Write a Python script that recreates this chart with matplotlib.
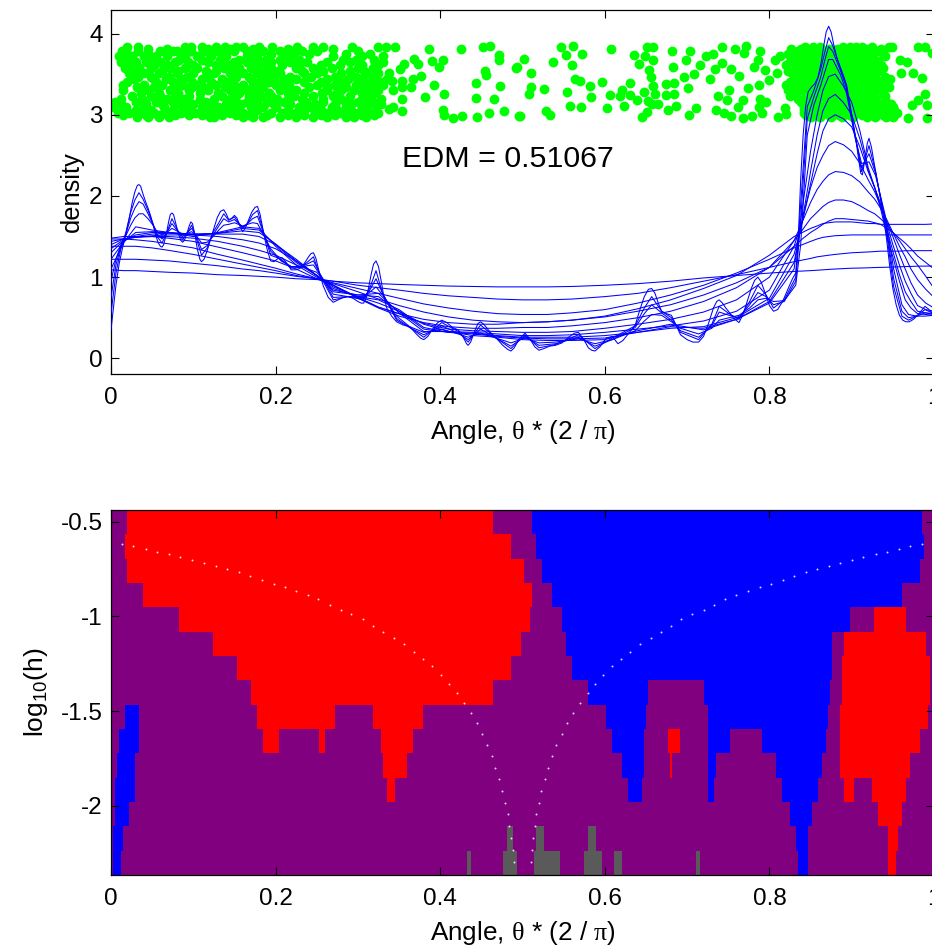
import numpy as np
import matplotlib
matplotlib.use("Agg")
import matplotlib.pyplot as plt
from matplotlib.colors import ListedColormap

plt.rcParams["font.family"] = ["Liberation Sans", "DejaVu Sans"]
plt.rcParams["mathtext.fontset"] = "custom"
plt.rcParams["mathtext.rm"] = "Liberation Serif"
plt.rcParams["mathtext.default"] = "regular"
plt.rcParams["axes.unicode_minus"] = False

# sharpest density curve (angle, density)
w1_points = [
    (0, .35), (.003, .62), (.006, .90), (.010, 1.17), (.014, 1.36), (.018, 1.52), (.022, 1.72), (.026, 1.93),
    (.029, 2.05), (.032, 2.13), (.034, 2.14), (.036, 2.12), (.039, 2.02), (.042, 1.93), (.045, 1.85), (.048, 1.76),
    (.051, 1.65), (.054, 1.53), (.057, 1.43), (.060, 1.38), (.062, 1.37), (.064, 1.40), (.067, 1.52), (.070, 1.68),
    (.072, 1.77), (.074, 1.79), (.076, 1.77), (.079, 1.65), (.082, 1.53), (.085, 1.45), (.087, 1.43), (.089, 1.45),
    (.092, 1.53), (.095, 1.63), (.097, 1.68), (.099, 1.66), (.102, 1.52), (.105, 1.34), (.108, 1.22), (.110, 1.19),
    (.113, 1.22), (.117, 1.33), (.121, 1.47), (.125, 1.60), (.129, 1.73), (.133, 1.81), (.137, 1.83), (.140, 1.78),
    (.143, 1.71), (.146, 1.72), (.150, 1.76), (.153, 1.73), (.157, 1.62), (.160, 1.56), (.163, 1.60), (.167, 1.70),
    (.171, 1.80), (.175, 1.86), (.178, 1.87), (.181, 1.78), (.184, 1.62), (.187, 1.47), (.190, 1.33), (.194, 1.20),
    (.198, 1.19), (.203, 1.23), (.208, 1.24), (.213, 1.18), (.219, 1.09), (.225, 1.09), (.230, 1.11), (.235, 1.17),
    (.240, 1.25), (.243, 1.29), (.246, 1.30), (.249, 1.23), (.253, 1.06), (.258, .89), (.264, .75), (.270, .69),
    (.276, .72), (.282, .75), (.288, .76), (.294, .74), (.300, .70), (.304, .68), (.307, .68), (.310, .74),
    (.313, .87), (.316, 1.03), (.319, 1.16), (.322, 1.20), (.325, 1.13), (.328, .97), (.331, .79), (.335, .62),
    (.341, .52), (.347, .45), (.355, .41), (.363, .39), (.371, .30), (.376, .25), (.380, .23), (.385, .27),
    (.392, .38), (.397, .44), (.402, .47), (.408, .44), (.415, .38), (.422, .35), (.428, .26), (.432, .18),
    (.434, .16), (.437, .20), (.442, .34), (.446, .43), (.449, .45), (.453, .42), (.460, .33), (.468, .25),
    (.476, .16), (.482, .11), (.486, .09), (.490, .13), (.496, .24), (.503, .31), (.509, .24), (.515, .14),
    (.520, .10), (.526, .12), (.533, .15), (.540, .16), (.548, .19), (.556, .26), (.563, .31), (.568, .32),
    (.574, .24), (.580, .13), (.584, .10), (.588, .09), (.594, .14), (.601, .24), (.609, .27), (.616, .18),
    (.622, .22), (.630, .32), (.637, .41), (.642, .58), (.648, .76), (.653, .85), (.657, .86), (.661, .80),
    (.665, .68), (.669, .58), (.675, .55), (.681, .53), (.686, .42), (.692, .29), (.700, .23), (.707, .20),
    (.714, .20), (.720, .27), (.726, .43), (.732, .62), (.736, .70), (.739, .72), (.743, .68), (.747, .62),
    (.751, .57), (.756, .50), (.763, .44), (.768, .54), (.773, .70), (.778, .86), (.782, .96), (.786, 1.00),
    (.790, .94), (.795, .80), (.800, .65), (.805, .58), (.810, .60), (.816, .70), (.822, .84), (.828, .98),
    (.832, 1.05), (.835, 1.45), (.838, 2.20), (.841, 2.75), (.844, 3.10), (.847, 3.28), (.851, 3.34), (.855, 3.38),
    (.859, 3.46), (.863, 3.65), (.866, 3.85), (.869, 4.02), (.872, 4.09), (.875, 4.02), (.878, 3.87), (.882, 3.70),
    (.886, 3.59), (.890, 3.48), (.894, 3.36), (.898, 3.12), (.902, 2.88), (.905, 2.70), (.908, 2.48), (.911, 2.28),
    (.913, 2.26), (.916, 2.45), (.919, 2.65), (.921, 2.71), (.924, 2.60), (.927, 2.42), (.930, 2.25), (.934, 2.02),
    (.938, 1.78), (.942, 1.50), (.946, 1.15), (.950, .86), (.954, .66), (.958, .53), (.962, .47), (.966, .45),
    (.970, .45), (.975, .48), (.980, .53), (.985, .59), (.989, .64), (.993, .61), (.997, .57), (1.0, .55),
]

# wiggly curves
theta_fine = [0, .006, .012, .018, .024, .029, .034, .039, .045, .051,
              .056, .062, .068, .074, .080, .087, .093, .098, .103, .110,
              .117, .124, .131, .137, .143, .150, .155, .160, .166, .172,
              .178, .184, .194, .207, .219, .230, .238, .246, .254, .270,
              .288, .307, .315, .322, .330, .347, .363, .380, .402, .422,
              .434, .449, .468, .486, .503, .520, .540, .568, .588, .609,
              .637, .648, .657, .669, .681, .692, .714, .730, .739, .751,
              .763, .776, .786, .796, .805, .818, .832, .838, .846, .854,
              .862, .868, .872, .877, .886, .893, .904, .912, .921, .929,
              .941, .951, .961, .969, .979, .989, 1.0]
w2 = [.55, 1.05, 1.35, 1.55, 1.80, 1.95, 2.04, 1.96, 1.82, 1.66,
      1.50, 1.42, 1.55, 1.72, 1.60, 1.46, 1.55, 1.64, 1.50, 1.27,
      1.36, 1.55, 1.67, 1.78, 1.70, 1.74, 1.67, 1.60, 1.66, 1.77,
      1.82, 1.60, 1.27, 1.22, 1.11, 1.12, 1.18, 1.25, 1.02, .72,
      .76, .72, .88, 1.08, .80, .47, .38, .26, .44, .33,
      .20, .41, .25, .12, .29, .13, .17, .29, .12, .25,
      .40, .62, .76, .58, .50, .32, .23, .42, .64, .55,
      .48, .70, .90, .78, .62, .72, 1.00, 1.90, 3.10, 3.30,
      3.55, 3.80, 3.95, 3.85, 3.58, 3.38, 2.76, 2.30, 2.62, 2.30,
      1.65, .88, .52, .47, .52, .60, .55]
w3 = [.75, 1.15, 1.38, 1.53, 1.73, 1.85, 1.93, 1.90, 1.78, 1.65,
      1.53, 1.47, 1.55, 1.66, 1.58, 1.50, 1.55, 1.60, 1.52, 1.34,
      1.39, 1.52, 1.63, 1.72, 1.68, 1.71, 1.66, 1.62, 1.66, 1.72,
      1.75, 1.58, 1.32, 1.20, 1.13, 1.13, 1.16, 1.20, 1.04, .75,
      .76, .74, .85, .98, .80, .49, .38, .29, .40, .31,
      .23, .36, .25, .15, .27, .16, .18, .26, .15, .23,
      .38, .55, .66, .56, .47, .34, .26, .40, .57, .53,
      .50, .66, .81, .76, .66, .70, .95, 1.70, 2.95, 3.22,
      3.45, 3.70, 3.84, 3.78, 3.55, 3.35, 2.75, 2.35, 2.52, 2.28,
      1.70, .98, .58, .50, .52, .56, .54]
w4 = [.95, 1.22, 1.40, 1.51, 1.64, 1.73, 1.78, 1.78, 1.72, 1.64,
      1.56, 1.52, 1.55, 1.60, 1.57, 1.53, 1.54, 1.56, 1.52, 1.42,
      1.43, 1.50, 1.58, 1.64, 1.65, 1.67, 1.65, 1.63, 1.65, 1.67,
      1.66, 1.55, 1.35, 1.20, 1.13, 1.12, 1.14, 1.15, 1.03, .79,
      .76, .76, .82, .88, .78, .52, .39, .32, .36, .30,
      .26, .31, .25, .19, .25, .19, .20, .24, .18, .23,
      .34, .46, .54, .53, .45, .37, .30, .37, .47, .50,
      .53, .62, .72, .74, .70, .71, .90, 1.40, 2.75, 3.12,
      3.35, 3.55, 3.68, 3.68, 3.50, 3.30, 2.72, 2.40, 2.42, 2.25,
      1.75, 1.10, .66, .54, .52, .52, .53]

# smoother curves
theta_mid = [0, .015, .03, .05, .07, .10, .13, .16, .18, .20,
             .225, .25, .27, .30, .325, .35, .38, .41, .44, .47,
             .50, .53, .56, .60, .64, .68, .72, .76, .80, .83,
             .84, .85, .858, .865, .872, .88, .89, .90, .91, .92,
             .928, .935, .943, .95, .958, .965, .972, .98, .99, 1.0]
w5 = [1.10, 1.42, 1.62, 1.58, 1.55, 1.50, 1.55, 1.62, 1.60, 1.38,
      1.15, 1.06, .82, .78, .80, .56, .33, .33, .28, .26,
      .23, .22, .22, .23, .34, .42, .35, .48, .68, 1.10,
      1.85, 2.55, 3.00, 3.30, 3.47, 3.50, 3.35, 3.15, 2.80, 2.35,
      2.10, 1.85, 1.50, 1.25, .95, .72, .62, .55, .54, .53]
w6 = [1.22, 1.43, 1.55, 1.56, 1.55, 1.52, 1.54, 1.60, 1.58, 1.40,
      1.18, 1.02, .84, .78, .76, .58, .36, .32, .30, .27,
      .25, .24, .24, .25, .32, .39, .37, .48, .70, 1.18,
      1.70, 2.30, 2.75, 3.05, 3.20, 3.25, 3.15, 3.00, 2.70, 2.32,
      2.10, 1.90, 1.58, 1.32, 1.03, .82, .70, .58, .56, .55]
w7 = [1.30, 1.45, 1.52, 1.55, 1.55, 1.53, 1.54, 1.57, 1.55, 1.41,
      1.20, 1.02, .86, .76, .72, .60, .38, .32, .31, .28,
      .26, .26, .26, .28, .32, .37, .39, .50, .74, 1.28,
      1.68, 2.15, 2.52, 2.80, 2.95, 3.00, 2.95, 2.85, 2.60, 2.30,
      2.10, 1.90, 1.65, 1.40, 1.15, .95, .80, .65, .60, .58]
m1 = [1.35, 1.46, 1.50, 1.53, 1.54, 1.53, 1.53, 1.53, 1.50, 1.40,
      1.22, 1.02, .88, .76, .68, .58, .42, .33, .32, .30,
      .28, .28, .29, .32, .36, .40, .46, .58, .84, 1.38,
      1.70, 2.10, 2.35, 2.50, 2.62, 2.67, 2.63, 2.55, 2.40, 2.20,
      2.05, 1.88, 1.68, 1.50, 1.28, 1.10, .93, .78, .68, .62]
m2 = [1.40, 1.47, 1.49, 1.51, 1.52, 1.52, 1.50, 1.46, 1.42, 1.35,
      1.20, 1.02, .90, .75, .63, .55, .43, .36, .34, .33,
      .32, .32, .33, .37, .42, .48, .57, .72, 1.00, 1.45,
      1.68, 1.92, 2.08, 2.18, 2.26, 2.30, 2.29, 2.25, 2.17, 2.05,
      1.96, 1.85, 1.70, 1.55, 1.38, 1.25, 1.10, .97, .85, .75]
m3 = [1.44, 1.47, 1.49, 1.50, 1.50, 1.48, 1.44, 1.38, 1.33, 1.27,
      1.15, 1.00, .90, .74, .62, .52, .44, .39, .37, .37,
      .38, .38, .40, .44, .50, .58, .70, .87, 1.12, 1.45,
      1.58, 1.72, 1.80, 1.87, 1.92, 1.95, 1.95, 1.93, 1.88, 1.82,
      1.78, 1.72, 1.64, 1.55, 1.45, 1.35, 1.25, 1.15, 1.01, .86]
m4 = [1.48, 1.50, 1.50, 1.50, 1.48, 1.44, 1.37, 1.30, 1.25, 1.20,
      1.10, .98, .90, .75, .63, .55, .48, .44, .42, .42,
      .44, .45, .47, .51, .58, .66, .78, .93, 1.12, 1.38,
      1.47, 1.55, 1.60, 1.65, 1.69, 1.72, 1.72, 1.71, 1.70, 1.69,
      1.67, 1.65, 1.60, 1.55, 1.48, 1.42, 1.35, 1.26, 1.18, 1.10]
s4 = [1.47, 1.47, 1.46, 1.44, 1.41, 1.36, 1.28, 1.21, 1.16, 1.11,
      1.04, .98, .92, .82, .73, .65, .57, .51, .47, .45,
      .44, .45, .47, .52, .61, .72, .86, 1.02, 1.27, 1.50,
      1.55, 1.60, 1.63, 1.66, 1.67, 1.68, 1.68, 1.68, 1.67, 1.66,
      1.66, 1.65, 1.65, 1.65, 1.65, 1.65, 1.65, 1.65, 1.65, 1.655]
s3 = [1.38, 1.38, 1.38, 1.36, 1.33, 1.28, 1.22, 1.16, 1.12, 1.08,
      1.02, .98, .93, .86, .80, .74, .67, .62, .58, .55,
      .54, .54, .56, .60, .68, .78, .90, 1.05, 1.22, 1.36,
      1.40, 1.44, 1.47, 1.49, 1.50, 1.51, 1.515, 1.52, 1.52, 1.52,
      1.52, 1.52, 1.52, 1.52, 1.52, 1.52, 1.52, 1.52, 1.52, 1.52]
s2 = [1.22, 1.22, 1.22, 1.21, 1.20, 1.17, 1.14, 1.10, 1.08, 1.05,
      1.01, .98, .95, .90, .87, .84, .80, .77, .75, .73,
      .72, .72, .73, .76, .80, .87, .95, 1.03, 1.12, 1.19,
      1.21, 1.23, 1.25, 1.26, 1.27, 1.28, 1.29, 1.30, 1.305, 1.31,
      1.315, 1.32, 1.32, 1.32, 1.32, 1.325, 1.325, 1.326, 1.326, 1.326]
s1 = [1.09, 1.08, 1.08, 1.07, 1.06, 1.05, 1.03, 1.02, 1.01, 1.00,
      .98, .97, .95, .93, .92, .91, .90, .89, .885, .88,
      .88, .88, .885, .90, .92, .95, .99, 1.02, 1.05, 1.07,
      1.075, 1.08, 1.085, 1.09, 1.095, 1.10, 1.105, 1.11, 1.112, 1.115,
      1.118, 1.12, 1.122, 1.125, 1.127, 1.13, 1.132, 1.135, 1.136, 1.137]

# green data points, dense parts listed by jitter level
green_left = {
    3.84: [.020, .033, .090, .097, .110, .127, .138, .152, .160, .180, .196, .226, .245, .258, .293, .325, .334, .345],
    3.81: [.045, .068, .118, .145, .172, .215, .270],
    3.78: [.013, .033, .060, .075, .080, .097, .112, .128, .150, .165, .185, .205, .232, .250, .300],
    3.75: [.020, .045, .068, .088, .120, .135, .175, .195, .222, .240, .285, .315],
    3.72: [.010, .025, .040, .055, .068, .090, .104, .122, .140, .165, .178, .210, .218, .270, .305, .330],
    3.68: [.018, .050, .083, .110, .132, .155, .172, .188, .205, .228, .282, .298, .320],
    3.65: [.012, .030, .043, .060, .078, .094, .118, .150, .165, .180, .195, .217, .238, .262, .290, .330],
    3.61: [.022, .052, .068, .100, .128, .142, .172, .188, .208, .228, .255, .278, .305, .325],
    3.58: [.017, .034, .048, .072, .090, .105, .137, .155, .170, .195, .225, .245, .268, .300, .318],
    3.54: [.030, .062, .082, .115, .128, .148, .180, .203, .232, .258, .290, .308],
    3.51: [.022, .040, .058, .080, .100, .125, .145, .160, .178, .190, .205, .235, .250, .280, .310, .325],
    3.47: [.033, .048, .070, .092, .118, .152, .168, .198, .218, .243, .272, .298, .318],
    3.44: [.028, .052, .067, .085, .110, .135, .150, .170, .185, .210, .225, .262, .288, .305, .320, .335],
    3.40: [.020, .055, .075, .098, .122, .142, .180, .192, .208, .235, .255, .280, .310, .328],
    3.37: [.015, .040, .062, .088, .105, .128, .160, .172, .200, .216, .250, .272, .298, .318, .330],
    3.34: [.032, .052, .080, .098, .112, .138, .152, .185, .208, .240, .262, .285, .308, .322],
    3.30: [.014, .045, .072, .095, .118, .145, .165, .178, .205, .225, .262, .280, .295, .313, .325],
    3.27: [.036, .058, .082, .108, .130, .155, .172, .192, .215, .235, .256, .275, .305, .320],
    3.23: [.025, .048, .060, .078, .095, .135, .152, .168, .182, .195, .222, .245, .270, .290, .315],
    3.20: [.012, .038, .068, .088, .108, .125, .145, .175, .202, .215, .232, .258, .280, .305, .328],
    3.16: [.005, .030, .055, .075, .092, .115, .150, .165, .178, .190, .210, .237, .258, .285, .300, .318],
    3.13: [.012, .042, .062, .082, .100, .122, .140, .158, .198, .218, .248, .272, .292, .312, .328],
    3.09: [.003, .018, .040, .065, .088, .110, .130, .148, .170, .185, .200, .228, .242, .268, .285, .305, .322],
    3.06: [.014, .030, .048, .075, .095, .118, .138, .155, .178, .215, .235, .255, .275, .292, .310],
    3.02: [.008, .022, .035, .052, .068, .085, .102, .125, .145, .160, .172, .195, .208, .225, .248, .262, .280, .300, .315, .325],
    3.00: [.015, .042, .060, .078, .095, .110, .135, .152, .168, .190, .215, .235, .255, .272, .290, .305, .320],
    2.97: [.032, .045, .058, .070, .120, .125, .160, .172, .185, .205, .225, .245, .262, .285, .295, .310],
}
green_right = {
    3.84: [.843, .853, .862, .890, .898, .905, .912, .925, .945],
    3.81: [.826, .838, .850, .873, .882, .918, .935],
    3.78: [.835, .848, .858, .868, .884, .895, .905, .917, .930],
    3.75: [.822, .840, .852, .872, .888, .900, .910, .938],
    3.72: [.830, .842, .853, .864, .878, .890, .902, .912, .925, .940],
    3.68: [.832, .845, .868, .880, .895, .906, .920, .928],
    3.65: [.825, .838, .850, .858, .874, .885, .897, .908, .918, .932],
    3.61: [.820, .842, .860, .872, .887, .898, .910, .922, .935],
    3.58: [.832, .845, .856, .868, .880, .892, .903, .915, .926, .938],
    3.54: [.823, .836, .848, .865, .878, .895, .905, .918, .932],
    3.51: [.827, .840, .851, .862, .875, .887, .899, .910, .921],
    3.47: [.833, .845, .855, .868, .885, .895, .905, .925, .940],
    3.44: [.830, .845, .858, .870, .882, .893, .905, .917, .930, .946],
    3.40: [.825, .840, .852, .866, .878, .896, .910, .922, .938],
    3.37: [.820, .835, .850, .862, .875, .888, .900, .912, .925, .935],
    3.34: [.830, .845, .858, .870, .882, .895, .908, .918, .930, .945],
    3.30: [.822, .840, .855, .868, .880, .892, .905, .918, .930],
    3.27: [.832, .848, .860, .874, .886, .898, .912, .925, .938],
    3.23: [.825, .845, .858, .870, .885, .897, .910, .923, .940],
    3.20: [.835, .850, .865, .878, .892, .904, .916, .930],
    3.16: [.838, .852, .865, .878, .890, .902, .915, .927, .942],
    3.13: [.845, .858, .872, .884, .895, .908, .922, .935, .948],
    3.09: [.842, .850, .862, .875, .888, .900, .915, .928, .940, .950],
    3.06: [.842, .855, .868, .880, .892, .905, .918, .932, .945, .952],
    3.02: [.842, .855, .868, .882, .895, .910, .922, .935, .948, .955],
    3.00: [.845, .860, .872, .885, .898, .912, .925, .938, .952],
    2.97: [.850, .862, .875, .888, .902, .918, .928, .942, .950],
}
green_sparse = [
    (.547, 3.84), (.561, 3.85), (.553, 3.74), (.572, 3.75), (.607, 3.81), (.651, 3.83), (.659, 3.83), (.636, 3.74),
    (.649, 3.72), (.659, 3.67), (.641, 3.63), (.682, 3.78), (.704, 3.79), (.699, 3.68), (.723, 3.72), (.732, 3.75),
    (.742, 3.83), (.758, 3.81), (.772, 3.85), (.769, 3.76), (.789, 3.78), (.786, 3.68), (.807, 3.68), (.813, 3.72),
    (.537, 3.65), (.502, 3.69), (.493, 3.59), (.510, 3.52), (.560, 3.61), (.654, 3.55), (.683, 3.59), (.716, 3.61),
    (.742, 3.64), (.734, 3.56), (.753, 3.56), (.708, 3.50), (.696, 3.46), (.728, 3.44), (.763, 3.48), (.781, 3.59),
    (.795, 3.55), (.809, 3.51), (.564, 3.44), (.570, 3.42), (.582, 3.36), (.597, 3.40), (.656, 3.46), (.674, 3.38),
    (.684, 3.39), (.659, 3.36), (.631, 3.39), (.621, 3.31), (.701, 3.33), (.510, 3.34), (.526, 3.32), (.554, 3.28),
    (.508, 3.26), (.606, 3.24), (.618, 3.23), (.631, 3.24), (.639, 3.18), (.648, 3.28), (.661, 3.26), (.674, 3.24),
    (.684, 3.26), (.583, 3.22), (.751, 3.31), (.738, 3.23), (.749, 3.18), (.774, 3.33), (.787, 3.37), (.799, 3.43),
    (.768, 3.18), (.788, 3.20), (.796, 3.16), (.653, 3.17), (.657, 3.13), (.665, 3.13), (.686, 3.11), (.558, 3.11),
    (.571, 3.10), (.603, 3.08), (.623, 3.11), (.762, 3.10), (.787, 3.10), (.791, 3.02), (.819, 3.08), (.820, 3.01),
    (.528, 3.04), (.533, 3.00), (.497, 2.98), (.711, 3.08), (.735, 3.06), (.745, 3.02), (.753, 2.98), (.768, 2.96),
    (.779, 2.99), (.810, 2.97), (.645, 2.97), (.651, 3.03), (.677, 3.06), (.702, 3.00),
    (.969, 2.96), (.975, 3.52), (.985, 3.45), (.989, 3.26), (.981, 3.18), (.973, 3.12), (.991, 3.12), (.991, 2.96),
    (.981, 3.84), (.989, 3.84), (.998, 3.76), (.967, 3.65), (.959, 3.68), (.960, 3.51), (.949, 3.84),
    (.386, 3.81), (.425, 3.81), (.452, 3.84), (.461, 3.85), (.472, 3.74), (.472, 3.67), (.492, 3.57), (.390, 3.66),
    (.404, 3.67), (.399, 3.59), (.454, 3.54), (.456, 3.49), (.377, 3.48), (.367, 3.44), (.365, 3.34), (.393, 3.37),
    (.444, 3.39), (.473, 3.36), (.382, 3.22), (.405, 3.25), (.444, 3.21), (.465, 3.20), (.354, 3.20), (.343, 3.10),
    (.338, 3.07), (.354, 3.05), (.403, 3.06), (.405, 3.00), (.415, 2.96), (.426, 2.98), (.445, 2.97), (.459, 3.02),
    (.478, 3.05), (.496, 2.98), (.368, 3.69), (.373, 3.62), (.356, 3.63), (.351, 3.56), (.353, 3.41), (.353, 3.34),
    (.343, 3.31), (.338, 3.51), (.341, 3.41),
]

# significance map, one list per bandwidth row from the top
red_runs = [
    [(.019, .464)],
    [(.017, .486)],
    [(.019, .502)],
    [(.038, .512)],
    [(.083, .509), (.927, .965)],
    [(.125, .498), (.891, .990)],
    [(.152, .486), (.888, .995)],
    [(.170, .464), (.888, .995)],
    [(.177, .272), (.317, .379), (.886, .993)],
    [(.185, .204), (.252, .259), (.327, .367), (.678, .691), (.886, .983)],
    [(.329, .360), (.680, .683), (.886, .970)],
    [(.334, .344), (.891, .903), (.925, .965)],
    [(.931, .960)],
    [(.943, .957)],
    [(.945, .953)],
]
blue_runs = [
    [(.512, .985)],
    [(.516, .988)],
    [(.524, .983)],
    [(.536, .962)],
    [(.549, .898)],
    [(.554, .877)],
    [(.561, .877)],
    [(.581, .654), (.721, .875)],
    [(.017, .035), (.601, .651), (.725, .872)],
    [(.010, .035), (.609, .649), (.725, .753), (.791, .870)],
    [(.007, .030), (.621, .649), (.725, .735), (.808, .865)],
    [(.005, .028), (.628, .646), (.725, .733), (.815, .860)],
    [(.005, .022), (.825, .853)],
    [(.002, .015), (.832, .848)],
    [(.002, .012), (.836, .846)],
]
gray_runs = {
    13: [(.481, .488), (.516, .526), (.581, .591)],
    14: [(.431, .436), (.476, .493), (.514, .546), (.576, .597), (.611, .621), (.711, .716)],
}

# white dotted line
dots_y = [-.616, -.627, -.643, -.658, -.671, -.688, -.704, -.718, -.734, -.750,
          -.766, -.785, -.806, -.827, -.847, -.866, -.885, -.910, -.940, -.965,
          -.989, -1.014, -1.049, -1.081, -1.114, -1.146, -1.188, -1.225, -1.264, -1.310,
          -1.357, -1.405, -1.456, -1.508, -1.563, -1.621, -1.679, -1.739, -1.799, -1.859,
          -1.922, -1.984, -2.045, -2.109, -2.172, -2.235, -2.295]
dots_left = [.013, .027, .042, .056, .070, .084, .099, .113, .127, .141,
             .156, .169, .183, .198, .211, .225, .239, .252, .266, .279,
             .292, .306, .318, .331, .344, .356, .368, .379, .390, .401,
             .411, .420, .429, .437, .445, .451, .457, .463, .467, .471,
             .475, .479, .482, .484, .486, .488, .490]
dots_right = [.986, .971, .957, .943, .929, .914, .900, .886, .872, .858,
              .844, .830, .816, .802, .788, .774, .760, .746, .733, .720,
              .706, .693, .680, .668, .656, .643, .631, .620, .609, .598,
              .588, .579, .570, .561, .554, .548, .541, .536, .531, .527,
              .523, .520, .517, .515, .513, .512, .510]

xlabel_text = r"Angle, $\mathrm{\theta}$ * (2 / $\mathrm{\pi}$)"

fig = plt.figure(figsize=(9.32, 9.46), dpi=100)

# top panel
ax1 = fig.add_axes([111 / 932, 1 - 374 / 946, 823 / 932, 364 / 946])
green_x = [x for _, xs in green_left.items() for x in xs] + [x for _, xs in green_right.items() for x in xs]
green_y = [y for y, xs in green_left.items() for _ in xs] + [y for y, xs in green_right.items() for _ in xs]
green_x += [p[0] for p in green_sparse]
green_y += [p[1] for p in green_sparse]
ax1.scatter(green_x, green_y, s=50, color="#00ff00", linewidths=0, zorder=2)

ax1.plot([p[0] for p in w1_points], [p[1] for p in w1_points], color="#0000ff", lw=0.75, zorder=3)
for c in [w2, w3, w4]:
    ax1.plot(theta_fine, c, color="#0000ff", lw=0.75, zorder=3)
for c in [w5, w6, w7, m1, m2, m3, m4, s4, s3, s2, s1]:
    ax1.plot(theta_mid, c, color="#0000ff", lw=0.75, zorder=3)

ax1.text(0.482, 2.46, "EDM = 0.51067", fontsize=21.9, ha="center", va="center")
ax1.set_xlim(0, 1)
ax1.set_ylim(-0.193, 4.29)
ax1.set_yticks([0, 1, 2, 3, 4])
ax1.set_xticks([0, 0.2, 0.4, 0.6, 0.8, 1])
ax1.set_xticklabels(["0", "0.2", "0.4", "0.6", "0.8", "1"])
ax1.set_xlabel(xlabel_text, fontsize=18.8)
ax1.xaxis.set_label_coords(0.501, -0.122)
ax1.set_ylabel("density", fontsize=18.4)
ax1.yaxis.set_label_coords(-0.0324, 0.5)

# bottom panel
ax2 = fig.add_axes([111 / 932, 1 - 874.7 / 946, 823 / 932, 364.7 / 946])
ncol = 412
edges = np.linspace(0, 1, ncol + 1)
centers = (edges[:-1] + edges[1:]) / 2
grid = np.zeros((15, ncol))
for i in range(15):
    for a, b in red_runs[i]:
        grid[i, (centers >= a) & (centers < b)] = 1
    for a, b in blue_runs[i]:
        grid[i, (centers >= a) & (centers < b)] = 2
    for a, b in gray_runs.get(i, []):
        grid[i, (centers >= a) & (centers < b)] = 3
cmap = ListedColormap(["#800080", "#ff0000", "#0000ff", "#5a5a5a"])
ax2.imshow(grid, cmap=cmap, vmin=0, vmax=3, aspect="auto", interpolation="nearest",
           extent=(0, 1, -2.364, -0.438))
ax2.scatter(dots_left, dots_y, s=2, color="white", linewidths=0, alpha=0.85, zorder=3)
ax2.scatter(dots_right, dots_y, s=2, color="white", linewidths=0, alpha=0.85, zorder=3)
ax2.set_xlim(0, 1)
ax2.set_ylim(-2.364, -0.438)
ax2.set_yticks([-2, -1.5, -1, -0.5])
ax2.set_yticklabels(["-2", "-1.5", "-1", "-0.5"])
ax2.set_xticks([0, 0.2, 0.4, 0.6, 0.8, 1])
ax2.set_xticklabels(["0", "0.2", "0.4", "0.6", "0.8", "1"])
ax2.set_xlabel(xlabel_text, fontsize=18.8)
ax2.xaxis.set_label_coords(0.501, -0.122)
ax2.set_ylabel("log$_{10}$(h)", fontsize=19)
ax2.yaxis.set_label_coords(-0.074, 0.5)

for ax in [ax1, ax2]:
    ax.tick_params(direction="in", length=5.5, width=0.8, top=True, right=True, labelsize=17.5)
    ax.tick_params(axis="x", pad=9.5)
    ax.tick_params(axis="y", pad=6)
    for sp in ax.spines.values():
        sp.set_linewidth(0.9)
    ax.set_axisbelow(False)

plt.savefig("out.png", dpi=100)
plt.close()
